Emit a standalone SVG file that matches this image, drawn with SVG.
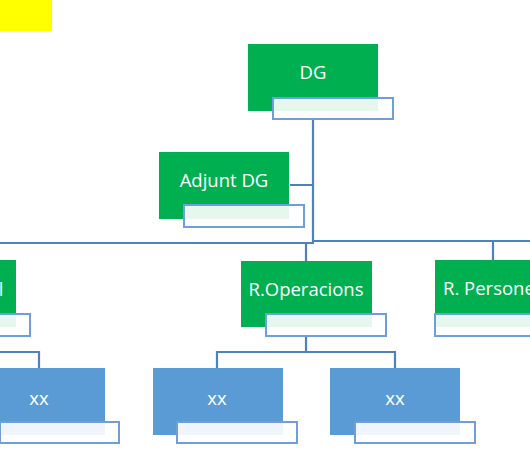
<svg xmlns="http://www.w3.org/2000/svg" width="530" height="450" viewBox="0 0 530 450">
<style>
.g{fill:#00B050}
.b{fill:#5B9BD5}
.lb{fill:#fff;fill-opacity:0.9;stroke:#6E9FDA;stroke-width:2}
.c{fill:none;stroke:#4F81BD;stroke-width:2.2}
.t{font-family:"Open Sans","Noto Sans",sans-serif;font-size:18.5px;fill:#fff;text-anchor:middle}
</style>
<rect x="0" y="0" width="52" height="31" fill="#FFFF00"/>
<g id="connectors">
<path class="c" d="M313 120V243M290 185H313M0 243H314M312 241H530M306 243V261M493 241V260M306 336V352M217 369V352H395V369M0 352H39V369"/>
</g>
<g id="dg">
<rect class="g" x="248" y="44" width="130" height="67"/>
<text class="t" x="313" y="79">DG</text>
<rect class="lb" x="273" y="98" width="120" height="21"/>
</g>
<g id="adjunt">
<rect class="g" x="159" y="152" width="130" height="67"/>
<text class="t" x="224" y="187">Adjunt DG</text>
<rect class="lb" x="184" y="205" width="120" height="22"/>
</g>
<g id="left-green">
<rect class="g" x="-114" y="260" width="130" height="67"/>
<text class="t" x="1" y="296">l</text>
<rect class="lb" x="-90" y="314" width="120" height="22"/>
</g>
<g id="roperacions">
<rect class="g" x="241" y="261" width="131" height="66"/>
<text class="t" x="306" y="296">R.Operacions</text>
<rect class="lb" x="266" y="314" width="120" height="22"/>
</g>
<g id="rpersonal">
<rect class="g" x="435" y="260" width="130" height="67"/>
<text class="t" x="443" y="295" style="text-anchor:start">R. Persone</text>
<rect class="lb" x="435" y="314" width="120" height="22"/>
</g>
<g id="xx1">
<rect class="b" x="-26" y="368" width="131" height="67"/>
<text class="t" x="39" y="405">xx</text>
<rect class="lb" x="0" y="422" width="119" height="21"/>
</g>
<g id="xx2">
<rect class="b" x="153" y="368" width="130" height="67"/>
<text class="t" x="217" y="405">xx</text>
<rect class="lb" x="177" y="422" width="120" height="21"/>
</g>
<g id="xx3">
<rect class="b" x="330" y="368" width="130" height="67"/>
<text class="t" x="395" y="405">xx</text>
<rect class="lb" x="355" y="422" width="120" height="21"/>
</g>
</svg>
